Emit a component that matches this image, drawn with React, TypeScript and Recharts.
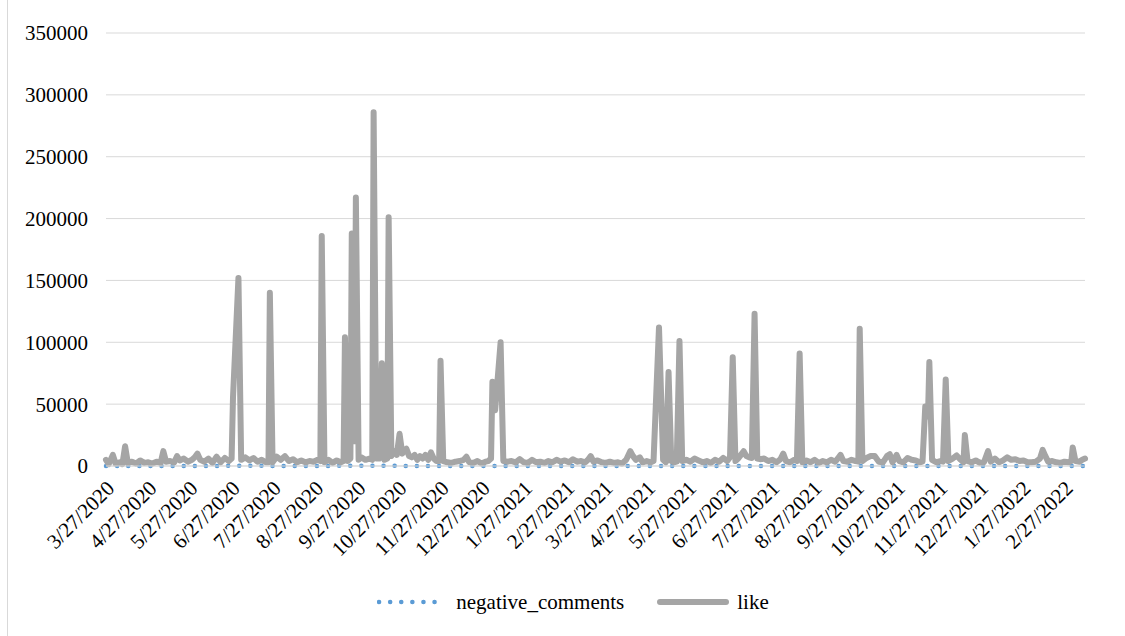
import { LineChart, Line, XAxis, YAxis, CartesianGrid, Legend } from 'recharts';

// day offsets counted from the first date on the axis (3/27/2020)
const START_DATE = '3/27/2020';

const tickLabels = [
  '3/27/2020', '4/27/2020', '5/27/2020', '6/27/2020', '7/27/2020', '8/27/2020',
  '9/27/2020', '10/27/2020', '11/27/2020', '12/27/2020', '1/27/2021', '2/27/2021',
  '3/27/2021', '4/27/2021', '5/27/2021', '6/27/2021', '7/27/2021', '8/27/2021',
  '9/27/2021', '10/27/2021', '11/27/2021', '12/27/2021', '1/27/2022', '2/27/2022',
];

const yTicks = [0, 50000, 100000, 150000, 200000, 250000, 300000, 350000];

// [day, likes]
const likeSeries: [number, number][] = [
  [0, 5000], [2, 1500], [5, 9000], [7, 2000], [10, 3000], [12, 1500], [14, 16000], [16, 2500],
  [19, 3500], [22, 2000], [25, 4500], [28, 2500], [31, 3000], [34, 2000], [37, 3500], [40, 2500],
  [42, 12000], [44, 3500], [47, 4000], [50, 3000], [52, 8000], [54, 4500], [57, 6000], [60, 3500],
  [63, 5000], [65, 7000], [67, 10000], [69, 5000], [72, 3500], [75, 6000], [78, 2500], [81, 7500],
  [84, 3000], [87, 6500], [90, 4000], [92, 6000], [93, 55000], [97, 152000], [99, 5000], [102, 7000],
  [105, 4500], [108, 6500], [111, 3500], [114, 5000], [117, 3000], [119, 3000], [120, 140000], [122, 3000],
  [125, 7500], [128, 5000], [131, 8000], [134, 4000], [137, 5500], [140, 3000], [143, 4500], [146, 3000],
  [149, 4000], [152, 3500], [155, 5000], [157, 4000], [158, 186000], [160, 3000], [163, 5000], [166, 2500],
  [169, 4500], [172, 3000], [174, 4000], [175, 104000], [177, 4000], [179, 6000], [180, 188000], [182, 20000],
  [183, 217000], [185, 5000], [187, 7000], [190, 5000], [193, 6000], [195, 5000], [196, 286000], [198, 6000],
  [200, 6000], [202, 83000], [204, 5000], [206, 6000], [207, 201000], [209, 8000], [211, 12000], [213, 9000],
  [215, 26000], [217, 10000], [218, 12000], [220, 14000], [222, 8000], [224, 7000], [226, 9000], [228, 5000],
  [230, 8000], [232, 6000], [234, 9000], [236, 5000], [238, 11000], [240, 6000], [242, 4000], [244, 4000],
  [245, 85000], [247, 4000], [250, 3000], [253, 2500], [256, 3500], [259, 4000], [262, 5000], [264, 7500],
  [266, 3000], [269, 2500], [272, 4000], [275, 2000], [278, 3500], [280, 4000], [282, 6000], [283, 68000],
  [285, 45000], [289, 100000], [291, 4000], [294, 3500], [297, 4000], [300, 3000], [303, 5500], [306, 3000],
  [309, 2500], [312, 5000], [315, 3000], [318, 3500], [321, 2500], [324, 4000], [327, 3000], [330, 5000],
  [333, 3500], [336, 4500], [339, 3000], [342, 5500], [345, 3500], [348, 4000], [351, 3000], [353, 5000],
  [355, 8000], [357, 3500], [360, 4500], [363, 3000], [366, 2500], [369, 3500], [372, 2500], [375, 3000],
  [378, 2000], [381, 5000], [384, 12000], [386, 8000], [388, 5000], [391, 7000], [393, 3000], [396, 4000],
  [399, 3000], [401, 4000], [405, 112000], [408, 5000], [410, 3000], [412, 76000], [414, 4000], [416, 3000],
  [418, 3500], [420, 101000], [422, 4000], [425, 5000], [428, 3500], [431, 6000], [434, 4500], [437, 3000],
  [440, 4000], [443, 2500], [446, 5000], [449, 3500], [452, 6500], [455, 4000], [457, 7000], [459, 88000],
  [461, 4000], [463, 6000], [465, 9000], [467, 12000], [469, 8000], [471, 7000], [473, 6500], [475, 123000],
  [477, 6000], [479, 5500], [482, 6000], [485, 4000], [488, 5000], [491, 3000], [494, 5500], [496, 10000],
  [498, 4000], [501, 3000], [504, 5000], [506, 4000], [508, 91000], [510, 3000], [513, 4500], [516, 3000],
  [519, 5000], [522, 2500], [525, 4000], [528, 3000], [531, 5000], [534, 3500], [536, 6000], [538, 9000],
  [540, 4000], [543, 3500], [546, 5000], [549, 4000], [551, 3500], [552, 111000], [554, 4000], [557, 6500],
  [560, 8000], [563, 8000], [566, 3500], [569, 3000], [572, 8000], [574, 9500], [576, 3000], [579, 9000],
  [581, 4000], [584, 3000], [587, 6500], [590, 5000], [593, 4500], [596, 3000], [598, 3500], [600, 48000],
  [602, 40000], [603, 84000], [605, 5000], [608, 3000], [611, 4000], [613, 3500], [615, 70000], [617, 4000],
  [620, 6000], [623, 8500], [626, 5000], [628, 3000], [629, 25000], [631, 4000], [634, 3000], [637, 4500],
  [640, 2500], [643, 3000], [646, 12000], [648, 3500], [651, 6000], [654, 3000], [657, 4500], [660, 7000],
  [663, 5000], [666, 5500], [669, 4000], [672, 4500], [675, 3000], [678, 3000], [681, 3500], [684, 6000],
  [686, 13000], [688, 8000], [690, 3500], [693, 4000], [696, 3000], [699, 2500], [702, 3500], [705, 3000],
  [707, 4000], [708, 15000], [710, 4000], [713, 3500], [715, 5000], [717, 6000],
];

// [day, negative comments]
const negativeSeries: [number, number][] = [
  [0, 20], [30, 30], [60, 40], [93, 120], [120, 100], [150, 40], [183, 150], [196, 180],
  [230, 60], [260, 30], [290, 80], [320, 20], [350, 30], [380, 20], [405, 90], [440, 30],
  [475, 100], [510, 70], [552, 80], [580, 30], [603, 60], [630, 30], [660, 20], [690, 20], [717, 10],
];

const BLUE = '#5B9BD5';
const GRAY = '#A5A5A5';
const FONT = '"Liberation Serif", "DejaVu Serif"';

const toDay = (s: string) => {
  const [m, d, y] = s.split('/').map(Number);
  const [m0, d0, y0] = START_DATE.split('/').map(Number);
  return Math.round((Date.UTC(y, m - 1, d) - Date.UTC(y0, m0 - 1, d0)) / 86400000);
};

const xTicks = tickLabels.map(toDay);
const likeData = likeSeries.map(([day, like]) => ({ day, like }));
const negData = negativeSeries.map(([day, negative_comments]) => ({ day, negative_comments }));

const DateTick = (props: any) => {
  const { x, y, payload } = props;
  const label = tickLabels[xTicks.indexOf(payload.value)] ?? '';
  return (
    <g transform={`translate(${x + 4},${y + 10})`}>
      <text x={0} y={0} dy={8} textAnchor="end" transform="rotate(-45)" fill="#000" fontSize={21} style={{ fontFamily: FONT }}>
        {label}
      </text>
    </g>
  );
};

const renderLegend = () => (
  <div style={{ boxSizing: 'border-box', height: 50, display: 'flex', justifyContent: 'center', alignItems: 'flex-start', paddingTop: 4, paddingLeft: 61, fontFamily: FONT, fontSize: 21, color: '#000' }}>
    <svg width={66} height={24} style={{ marginRight: 13 }}>
      <line x1={2} y1={12} x2={64} y2={12} stroke={BLUE} strokeWidth={4.5} strokeDasharray="0.1 11" strokeLinecap="round" />
    </svg>
    <span style={{ lineHeight: '24px', marginRight: 33 }}>negative_comments</span>
    <svg width={72} height={24} style={{ marginRight: 8 }}>
      <line x1={3} y1={12} x2={69} y2={12} stroke={GRAY} strokeWidth={6} strokeLinecap="round" />
    </svg>
    <span style={{ lineHeight: '24px' }}>like</span>
  </div>
);

export default function App() {
  return (
    <div style={{ position: 'absolute', left: 0, top: 0, width: 1125, height: 636, background: '#fff', fontFamily: FONT }}>
      <div style={{ position: 'absolute', left: 7, top: 0, height: 636, borderLeft: '1px solid #D9D9D9' }} />
      <LineChart width={1125} height={636} margin={{ top: 33, right: 40, bottom: 0, left: 0 }} style={{ fontFamily: FONT }}>
        <CartesianGrid vertical={false} stroke="#D9D9D9" strokeWidth={1} />
        <XAxis
          dataKey="day"
          type="number"
          domain={[0, 717]}
          ticks={xTicks}
          interval={0}
          allowDuplicatedCategory={false}
          tick={<DateTick />}
          tickLine={false}
          axisLine={{ stroke: '#D9D9D9' }}
          height={120}
        />
        <YAxis
          type="number"
          domain={[0, 350000]}
          ticks={yTicks}
          interval={0}
          width={106}
          tickLine={false}
          axisLine={false}
          tickMargin={12}
          tick={{ fill: '#000', fontSize: 21, style: { fontFamily: FONT } }}
        />
        <Legend verticalAlign="bottom" content={renderLegend} />
        <Line
          data={negData}
          dataKey="negative_comments"
          name="negative_comments"
          stroke={BLUE}
          strokeWidth={4.5}
          strokeDasharray="0.1 11"
          strokeLinecap="round"
          dot={false}
          isAnimationActive={false}
        />
        <Line
          data={likeData}
          dataKey="like"
          name="like"
          stroke={GRAY}
          strokeWidth={6}
          strokeLinejoin="round"
          strokeLinecap="round"
          dot={false}
          isAnimationActive={false}
        />
      </LineChart>
    </div>
  );
}
